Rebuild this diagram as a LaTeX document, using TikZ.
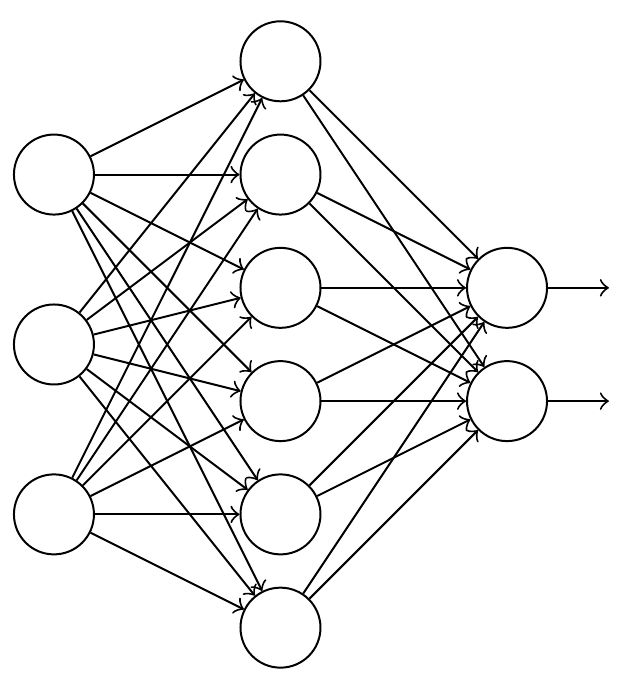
\documentclass[tikz,border=0pt]{standalone}
\usepackage{tikz}
\usetikzlibrary{positioning}

\begin{document}
\begin{tikzpicture}[neuron/.style={circle,draw,minimum size=0.565cm,inner sep=0pt}]
  \useasboundingbox (-0.381,-2.398) rectangle (4.011,2.433);
  \foreach \i/\y in {1/1.2,2/0,3/-1.2}
    \node[neuron] (i\i) at (0,\y) {};
  \foreach \h/\y in {1/2.0,2/1.2,3/0.4,4/-0.4,5/-1.2,6/-2.0}
    \node[neuron] (h\h) at (1.6,\y) {};
  \node[neuron] (o1) at (3.2,0.4) {};
  \node[neuron] (o2) at (3.2,-0.4) {};
  \coordinate[right=0.43cm of o1] (y1);
  \coordinate[right=0.43cm of o2] (y2);
  \foreach \i in {1,2,3}
    \foreach \h in {1,...,6}
      \draw[->] (i\i) -- (h\h);
  \foreach \h in {1,...,6}
    \foreach \o in {1,2}
      \draw[->] (h\h) -- (o\o);
  \draw[->] (o1) -- (y1);
  \draw[->] (o2) -- (y2);
\end{tikzpicture}
\end{document}
